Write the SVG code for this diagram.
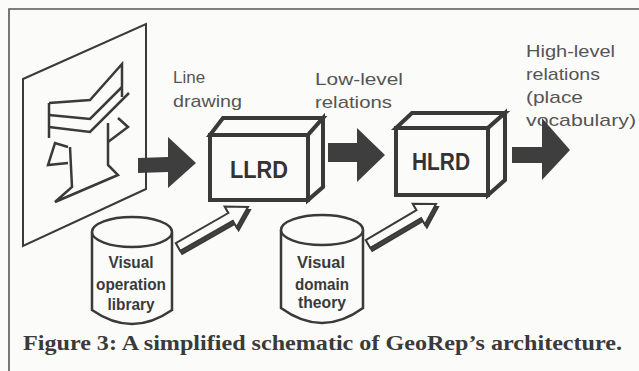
<svg xmlns="http://www.w3.org/2000/svg" width="639" height="371" viewBox="0 0 639 371">
<style>
.ink{fill:none;stroke:#3a3a3a;stroke-linejoin:miter}
.box{fill:#fbfbfa;stroke:#3a3a3a;stroke-width:4;stroke-linejoin:miter}
.cyl{fill:#fbfbfa;stroke:#3a3a3a;stroke-width:2.5}
.dark{fill:#3e3e3e;stroke:none}
.hollow{fill:#fbfbfa;stroke:#3a3a3a;stroke-width:2;stroke-linejoin:miter}
.shadow{fill:#444;stroke:#3a3a3a;stroke-width:2;stroke-linejoin:miter}
.lbl{font-family:"Liberation Sans",Arial,sans-serif;font-size:17px;fill:#555}
.bx{font-family:"Liberation Sans",Arial,sans-serif;font-weight:bold;font-size:24px;fill:#333}
.cy{font-family:"Liberation Sans",Arial,sans-serif;font-weight:bold;font-size:16px;fill:#3a3a3a}
.cap{font-family:"Liberation Serif","Times New Roman",serif;font-weight:bold;font-size:21px;fill:#3a3a3a}
</style>
<rect width="639" height="371" fill="#fbfbfa"/>
<g id="frame">
<path d="M9,371 L9,9 L639,9" fill="none" stroke="#555" stroke-width="1.6"/>
</g>
<g id="line-drawing-panel">
<polygon points="23,79 146,24 146,189 23,246" class="ink" stroke-width="2"/>
<g class="ink" stroke-width="2.5">
<path d="M49,103 L90,100 L122,64 L122,97"/>
<path d="M49,115 L90,119 L122,87"/>
<path d="M49,127 L90,132 L129,93"/>
<path d="M49,103 L49,138"/>
<path d="M68,147 L55,143 L48,165 L68,163"/>
<path d="M70,147 L72,187 L55,202 L118,175 L108,165 L108,123"/>
<path d="M118,118 L128,127 L108,142"/>
</g>
</g>
<g id="labels">
<text class="lbl" x="173" y="83">Line</text>
<text class="lbl" x="173" y="107" textLength="69" lengthAdjust="spacingAndGlyphs">drawing</text>
<text class="lbl" x="315" y="85" textLength="88" lengthAdjust="spacingAndGlyphs">Low-level</text>
<text class="lbl" x="315" y="108" textLength="77" lengthAdjust="spacingAndGlyphs">relations</text>
<text class="lbl" x="526" y="57" textLength="89" lengthAdjust="spacingAndGlyphs">High-level</text>
<text class="lbl" x="526" y="80" textLength="74" lengthAdjust="spacingAndGlyphs">relations</text>
<text class="lbl" x="526" y="103" textLength="57" lengthAdjust="spacingAndGlyphs">(place</text>
<text class="lbl" x="526" y="126" textLength="110" lengthAdjust="spacingAndGlyphs">vocabulary)</text>
</g>
<g id="LLRD">
<polygon class="box" points="210,135 223,118 323,118 308,135"/>
<polygon class="box" points="308,135 323,118 323,187 308,200"/>
<rect class="box" x="210" y="135" width="98" height="65"/>
<text class="bx" x="259" y="178" text-anchor="middle" textLength="58" lengthAdjust="spacingAndGlyphs">LLRD</text>
</g>
<g id="HLRD">
<polygon class="box" points="396,128 412,113 505,113 488,128"/>
<polygon class="box" points="488,128 505,113 505,180 488,195"/>
<rect class="box" x="396" y="128" width="92" height="67"/>
<text class="bx" x="441" y="170" text-anchor="middle" textLength="58" lengthAdjust="spacingAndGlyphs">HLRD</text>
</g>
<g id="visual-operation-library">
<path class="cyl" d="M92,232 L92,310 Q132,338 172,310 L172,232"/>
<ellipse class="cyl" cx="132" cy="232" rx="40" ry="15"/>
<text class="cy" x="131" y="268" text-anchor="middle" textLength="45" lengthAdjust="spacingAndGlyphs">Visual</text>
<text class="cy" x="131" y="290" text-anchor="middle" textLength="70" lengthAdjust="spacingAndGlyphs">operation</text>
<text class="cy" x="131" y="310" text-anchor="middle" textLength="47" lengthAdjust="spacingAndGlyphs">library</text>
</g>
<g id="visual-domain-theory">
<path class="cyl" d="M281,230 L281,308 Q322,338 363,308 L363,230"/>
<ellipse class="cyl" cx="322" cy="230" rx="41" ry="15"/>
<text class="cy" x="321" y="268" text-anchor="middle" textLength="48" lengthAdjust="spacingAndGlyphs">Visual</text>
<text class="cy" x="322" y="290" text-anchor="middle" textLength="54" lengthAdjust="spacingAndGlyphs">domain</text>
<text class="cy" x="322" y="308" text-anchor="middle" textLength="48" lengthAdjust="spacingAndGlyphs">theory</text>
</g>
<g id="connectors">
<polygon class="dark" points="138,158 168,157 168,137 196,163 168,188 168,172 138,173"/>
<polygon class="dark" points="328,143 357,143 357,128 385,155 357,182 357,162 328,162"/>
<polygon class="dark" points="512,147 542,147 542,118 570,150 542,180 542,163 512,163"/>
<g transform="translate(2,3)">
<polygon class="shadow" points="175.8,243.1 228.4,213 224.6,206.5 248,207 236.6,227.3 232.8,220.8 180.2,250.9"/>
<polygon class="shadow" points="365.7,240.1 416.5,210.2 412.7,203.8 436,204 424.9,224.4 421.1,218 370.3,247.9"/>
</g>
<polygon class="hollow" points="175.8,243.1 228.4,213 224.6,206.5 248,207 236.6,227.3 232.8,220.8 180.2,250.9"/>
<polygon class="hollow" points="365.7,240.1 416.5,210.2 412.7,203.8 436,204 424.9,224.4 421.1,218 370.3,247.9"/>
</g>
<g id="caption">
<text class="cap" x="23" y="350" textLength="599" lengthAdjust="spacingAndGlyphs">Figure 3: A simplified schematic of GeoRep’s architecture.</text>
</g>
</svg>
